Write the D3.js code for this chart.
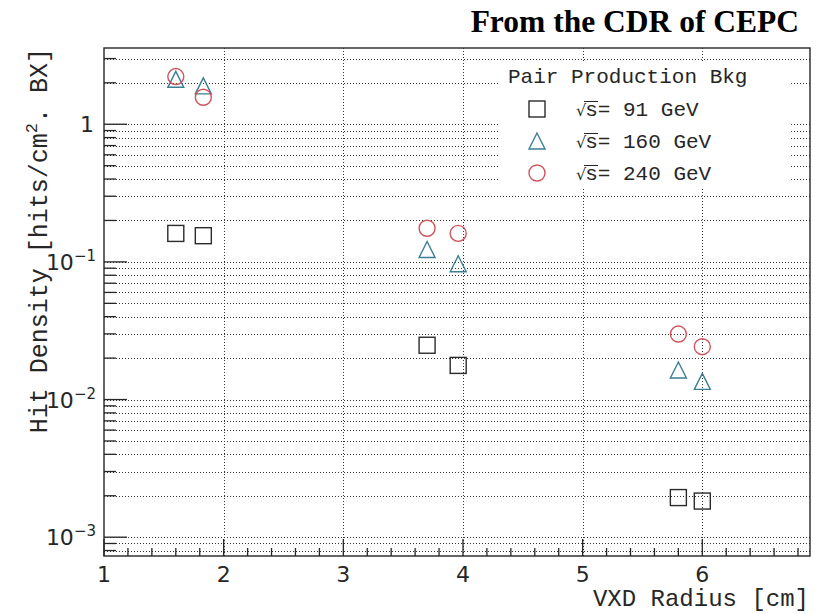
<!DOCTYPE html>
<html>
<head>
<meta charset="utf-8">
<script src="https://cdn.jsdelivr.net/npm/d3@7"></script>
<style>
  html, body { margin: 0; padding: 0; background: #fff; }
  svg { display: block; }
</style>
</head>
<body>
<svg id="chart" width="820" height="614"></svg>
<script>
// VXD layer radii [cm] and pair-production hit densities [hits/cm^2 BX]
const radius = [1.6, 1.83, 3.7, 3.96, 5.8, 6.0];
const hd91   = [0.161, 0.155, 0.0248, 0.0177, 0.00194, 0.00183];
const hd160  = [2.12, 1.90, 0.123, 0.097, 0.0164, 0.01355];
const hd240  = [2.22, 1.57, 0.1755, 0.161, 0.0299, 0.0242];

const seriesNames = ["91 GeV", "160 GeV", "240 GeV"];
const xTickLabels = ["1", "2", "3", "4", "5", "6"];
const yDecades = [-3, -2, -1, 0];

const svg = d3.select("#chart");
const M = { left: 104, right: 810, top: 48, bottom: 556 };
const ink = "#262626";
const mono = "'Liberation Mono', 'DejaVu Sans Mono', monospace";
const sans = "'DejaVu Sans', sans-serif";

const x = d3.scaleLinear().domain([1, 6.9]).range([M.left, M.right]);
const y = d3.scaleLog().domain([7.3e-4, 3.58]).range([M.bottom, M.top]);

// y tick values: majors at decades, minors at 2..9 of each decade inside the domain
const yMinor = [];
for (let e = -4; e <= 0; e++) {
  for (let k = 2; k <= 9; k++) {
    const v = k * Math.pow(10, e);
    if (v >= y.domain()[0] && v <= y.domain()[1]) yMinor.push(v);
  }
}
const yMajor = yDecades.map(e => Math.pow(10, e));
const xMajor = xTickLabels.map(Number);
const xMinor = d3.range(1, 6.95, 0.2).map(v => +v.toFixed(1)).filter(v => !xMajor.includes(v));

// dotted grid
const grid = svg.append("g").attr("stroke", "#333").attr("stroke-width", 1)
  .attr("stroke-dasharray", "1,2").attr("fill", "none");
yMajor.concat(yMinor).forEach(v => {
  grid.append("line").attr("x1", M.left).attr("x2", M.right)
    .attr("y1", Math.round(y(v)) + 0.5).attr("y2", Math.round(y(v)) + 0.5);
});
xMajor.filter(v => v > 1).forEach(v => {
  grid.append("line").attr("y1", M.top).attr("y2", M.bottom)
    .attr("x1", Math.round(x(v)) + 0.5).attr("x2", Math.round(x(v)) + 0.5);
});

// legend
const lg = svg.append("g");
lg.append("rect").attr("x", 498).attr("y", 62).attr("width", 292).attr("height", 126).attr("fill", "#fff");

// frame
svg.append("rect").attr("x", M.left).attr("y", M.top)
  .attr("width", M.right - M.left).attr("height", M.bottom - M.top)
  .attr("fill", "none").attr("stroke", ink).attr("stroke-width", 1.4);

// axis ticks
const ticks = svg.append("g").attr("stroke", ink).attr("stroke-width", 1.3);
yMajor.forEach(v => ticks.append("line").attr("x1", M.left).attr("x2", M.left + 23)
  .attr("y1", y(v)).attr("y2", y(v)));
yMinor.forEach(v => ticks.append("line").attr("x1", M.left).attr("x2", M.left + 12)
  .attr("y1", y(v)).attr("y2", y(v)));
xMajor.forEach(v => ticks.append("line").attr("y1", M.bottom).attr("y2", M.bottom - 17)
  .attr("x1", x(v)).attr("x2", x(v)));
xMinor.forEach(v => ticks.append("line").attr("y1", M.bottom).attr("y2", M.bottom - 8)
  .attr("x1", x(v)).attr("x2", x(v)));

// tick labels
xTickLabels.forEach((t, i) => {
  svg.append("text").attr("x", x(xMajor[i])).attr("y", 582)
    .attr("text-anchor", "middle").attr("font-family", sans).attr("font-size", 22)
    .attr("fill", ink).text(t);
});
yDecades.forEach(e => {
  const t = svg.append("text").attr("x", 96).attr("y", y(Math.pow(10, e)) + 8)
    .attr("text-anchor", "end").attr("font-family", sans).attr("font-size", 22).attr("fill", ink);
  if (e === 0) {
    t.attr("x", 94).text("1");
  } else {
    t.append("tspan").text("10");
    t.append("tspan").attr("font-size", 15).attr("dy", -9).text("\u2212" + (-e));
  }
});

// axis titles
svg.append("text").attr("x", 809).attr("y", 606)
  .attr("text-anchor", "end").attr("font-family", mono).attr("font-size", 24)
  .attr("fill", ink).text("VXD Radius [cm]");
const yt = svg.append("text").attr("transform", "translate(46.5,48) rotate(-90)")
  .attr("text-anchor", "end").attr("font-family", mono).attr("font-size", 25).attr("fill", ink);
yt.append("tspan").text("Hit Density [hits/cm");
yt.append("tspan").attr("font-size", 17).attr("dy", -10).text("2");
yt.append("tspan").attr("dy", 10).text(". BX]");

// title
svg.append("text").attr("x", 799).attr("y", 31.5).attr("text-anchor", "end")
  .attr("font-family", "'Liberation Serif', 'Times New Roman', serif")
  .attr("font-weight", "bold").attr("font-size", 31.5).attr("fill", "#000")
  .text("From the CDR of CEPC");

// marker shapes
const colors = ["#2b2b2b", "#3a7f93", "#d0555c"];
const r = 8;
function marker(g, kind, cx, cy, color) {
  const s = g.append("g").attr("fill", "none").attr("stroke", color).attr("stroke-width", 1.4);
  if (kind === 0) {
    s.append("rect").attr("x", cx - r).attr("y", cy - r).attr("width", 2 * r).attr("height", 2 * r);
  } else if (kind === 1) {
    s.append("path").attr("d", `M${cx - r},${cy + r}L${cx + r},${cy + r}L${cx},${cy - r}Z`);
  } else {
    s.append("circle").attr("cx", cx).attr("cy", cy).attr("r", r);
  }
}

const series = [hd91, hd160, hd240];
const pts = svg.append("g");
series.forEach((vals, k) => {
  vals.forEach((v, i) => marker(pts, k, x(radius[i]), y(v), colors[k]));
});

// legend content
lg.append("text").attr("x", 508).attr("y", 83).attr("font-family", mono).attr("font-size", 21)
  .attr("fill", ink).text("Pair Production Bkg");
const rowY = [109, 141, 173];
seriesNames.forEach((name, k) => {
  marker(lg, k, 537, rowY[k], colors[k]);
  const base = rowY[k] + 6.5;
  const t = lg.append("text").attr("x", 576).attr("y", base).attr("fill", ink);
  t.append("tspan").attr("font-family", sans).attr("font-size", 16).text("\u221A");
  t.append("tspan").attr("font-family", mono).attr("font-size", 21).attr("dx", -1).text("s= " + name);
  lg.append("line").attr("x1", 584).attr("x2", 598).attr("y1", base - 14).attr("y2", base - 14)
    .attr("stroke", ink).attr("stroke-width", 1);
});
</script>
</body>
</html>
